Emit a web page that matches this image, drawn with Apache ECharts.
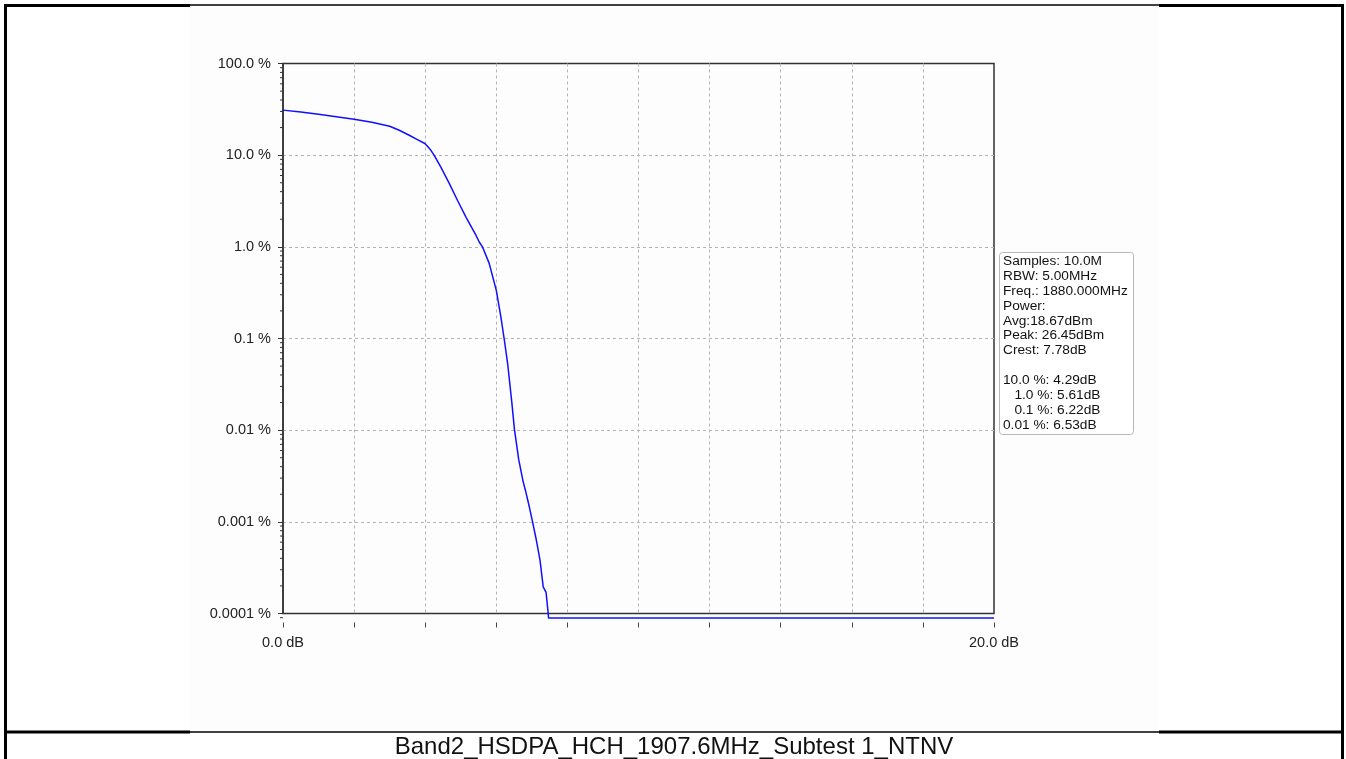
<!DOCTYPE html>
<html>
<head>
<meta charset="utf-8">
<script src="https://cdn.jsdelivr.net/npm/echarts@6/dist/echarts.min.js"></script>
<style>
html,body{margin:0;padding:0;background:#fff;}
#chart{width:1346px;height:759px;}
</style>
</head>
<body>
<div id="chart"></div>
<script>
// Power level relative to average (dB)
const dbValues = [0.0, 0.5, 1.0, 1.5, 2.0, 2.5, 3.0, 3.27, 3.55, 3.78, 3.99, 4.07, 4.16, 4.25, 4.44, 4.68, 4.91, 5.15, 5.43, 5.52, 5.61, 5.8, 6.0, 6.13, 6.22, 6.32, 6.44, 6.51, 6.63, 6.75, 6.82, 6.93, 7.02, 7.12, 7.23, 7.32, 7.4, 7.46, 7.47, 20.0];
// CCDF probability (%)
const ccdfPercent = [31.0, 29.5, 28.0, 26.3, 24.7, 22.8, 20.7, 18.7, 16.5, 14.8, 13.4, 12.4, 11.3, 10.0, 7.4, 4.9, 3.2, 2.1, 1.33, 1.13, 1.0, 0.66, 0.335, 0.171, 0.1, 0.053, 0.0195, 0.0102, 0.0048, 0.0028, 0.0022, 0.00145, 0.001, 0.00065, 0.00038, 0.000195, 0.00017, 0.0001, 0.0000895, 0.0000895];
// Y axis decade labels
const yTickLabels = {'-4':'0.0001 %','-3':'0.001 %','-2':'0.01 %','-1':'0.1 %','0':'1.0 %','1':'10.0 %','2':'100.0 %'};
// X axis labels shown
const xTickLabels = {'0':'0.0 dB','20':'20.0 dB'};
// Minor (log) tick values on the Y axis
const minorTickValues = [];
[-4,-3,-2,-1,0,1].forEach(function(n){ for (let k=2;k<=9;k++) minorTickValues.push(k*Math.pow(10,n)); });
minorTickValues.push(0.00009);
// Info box text
const infoLines = ['Samples: 10.0M','RBW: 5.00MHz','Freq.: 1880.000MHz','Power:','Avg:18.67dBm','Peak: 26.45dBm','Crest: 7.78dB','','10.0 %: 4.29dB','   1.0 %: 5.61dB','   0.1 %: 6.22dB','0.01 %: 6.53dB'];
const chartTitle = 'Band2_HSDPA_HCH_1907.6MHz_Subtest 1_NTNV';

const FONT = "'Liberation Sans', Arial, sans-serif";
const chart = echarts.init(document.getElementById('chart'));
const lineData = dbValues.map(function(x,i){ return [x, ccdfPercent[i]]; });

chart.setOption({
  animation: false,
  backgroundColor: '#ffffff',
  textStyle: {fontFamily: FONT},
  grid: {left: 283, top: 63.5, width: 711, height: 550, show: true, borderColor: '#333', borderWidth: 1.5, backgroundColor: 'transparent'},
  xAxis: {
    type: 'value', min: 0, max: 20, interval: 2, offset: 9,
    axisLine: {show: false},
    axisTick: {show: true, length: 5, lineStyle: {color: '#444', width: 1}},
    axisLabel: {
      margin: 13, fontSize: 14.5, color: '#222', fontFamily: FONT,
      formatter: function(v){ const k = String(Math.round(v)); return xTickLabels[k] || ''; }
    },
    splitLine: {show: true, showMinLine: false, showMaxLine: false, lineStyle: {type: [3,3], color: '#b4b4b4', width: 1}}
  },
  yAxis: {
    type: 'log', logBase: 10, min: 0.0001, max: 100, splitNumber: 6,
    axisLine: {show: true, lineStyle: {color: '#333', width: 1.5}},
    axisTick: {show: true, length: 5, lineStyle: {color: '#333', width: 1}},
    minorTick: {show: false},
    axisLabel: {
      margin: 12, fontSize: 14.5, color: '#222', fontFamily: FONT,
      formatter: function(v){ const k = String(Math.round(Math.log10(v))); return yTickLabels[k] || ''; }
    },
    splitLine: {show: true, showMinLine: false, showMaxLine: false, lineStyle: {type: [3,3], color: '#b4b4b4', width: 1}}
  },
  series: [
    {
      type: 'line', data: lineData, showSymbol: false, symbol: 'none', clip: false,
      lineStyle: {color: '#1010ff', width: 1.5}, z: 4
    },
    {
      type: 'custom', silent: true, clip: false, z: 5,
      data: minorTickValues.map(function(v){ return [0, v]; }),
      encode: {x: 0, y: 1},
      renderItem: function(params, api){
        const p = api.coord([0, api.value(1)]);
        return {type: 'line', shape: {x1: p[0]-3, y1: p[1], x2: p[0], y2: p[1]}, style: {stroke: '#333', lineWidth: 1}};
      }
    }
  ],
  graphic: [
    {type: 'rect', z: -10, shape: {x: 190, y: 6, width: 969, height: 725}, style: {fill: '#fdfdfd'}, silent: true},
    {type: 'line', shape: {x1: 5.5, y1: 4, x2: 5.5, y2: 759}, style: {stroke: '#000', lineWidth: 3}, silent: true},
    {type: 'line', shape: {x1: 1342.5, y1: 4, x2: 1342.5, y2: 759}, style: {stroke: '#000', lineWidth: 3}, silent: true},
    {type: 'line', shape: {x1: 4, y1: 5.5, x2: 190, y2: 5.5}, style: {stroke: '#000', lineWidth: 3}, silent: true},
    {type: 'line', shape: {x1: 190, y1: 5, x2: 1159, y2: 5}, style: {stroke: '#000', lineWidth: 1.5}, silent: true},
    {type: 'line', shape: {x1: 1159, y1: 5.5, x2: 1344, y2: 5.5}, style: {stroke: '#000', lineWidth: 3}, silent: true},
    {type: 'line', shape: {x1: 4, y1: 732, x2: 190, y2: 732}, style: {stroke: '#000', lineWidth: 3}, silent: true},
    {type: 'line', shape: {x1: 190, y1: 732, x2: 1159, y2: 732}, style: {stroke: '#000', lineWidth: 1.5}, silent: true},
    {type: 'line', shape: {x1: 1159, y1: 732, x2: 1344, y2: 732}, style: {stroke: '#000', lineWidth: 3}, silent: true},
    {type: 'text', x: 674, y: 747.5, silent: true,
      style: {text: chartTitle, font: '24px ' + FONT, fill: '#111', align: 'center', verticalAlign: 'middle'}},
    {
      type: 'group', left: 999, top: 252, silent: true,
      children: [
        {type: 'rect', shape: {x: 0, y: 0, width: 134, height: 182, r: 3}, style: {fill: '#fff', stroke: '#b8b8b8', lineWidth: 1}},
        {type: 'text', x: 3.5, y: 1.5, style: {text: infoLines.join('\n'), font: '13.7px ' + FONT, lineHeight: 14.85, fill: '#111'}}
      ]
    }
  ]
});
</script>
</body>
</html>
